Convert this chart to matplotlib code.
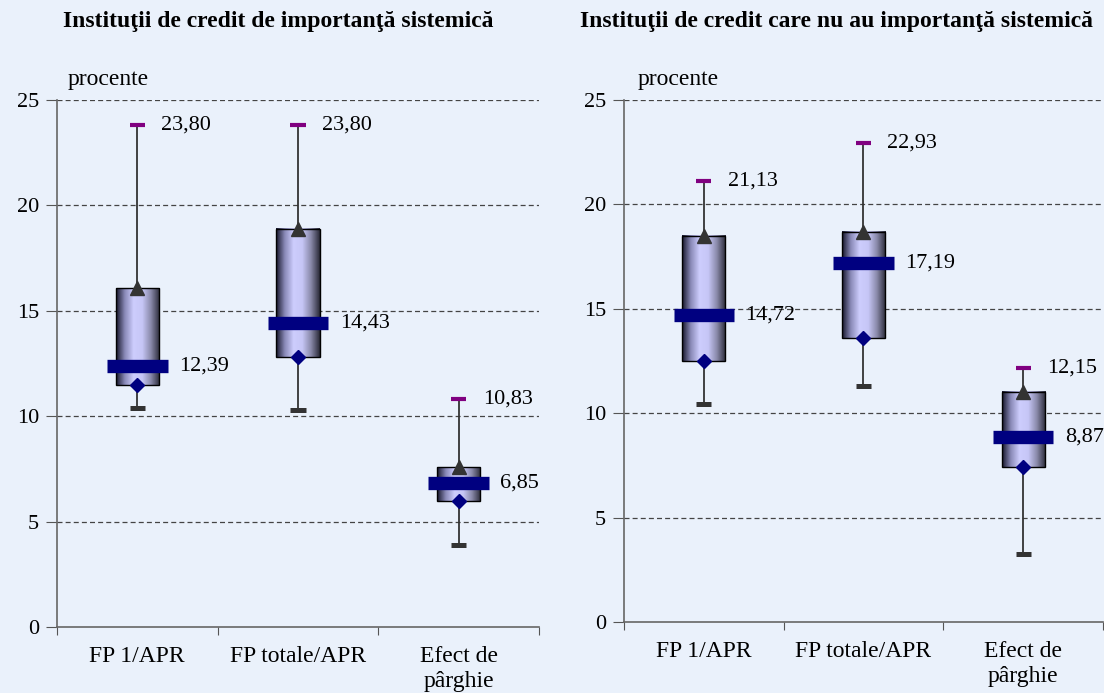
import numpy as np
import matplotlib
matplotlib.use("Agg")
import matplotlib.pyplot as plt
from matplotlib.colors import LinearSegmentedColormap

plt.rcParams['font.family'] = ['Liberation Serif', 'DejaVu Serif']

categories = ['FP 1/APR', 'FP totale/APR', 'Efect de\npârghie']
titles = ['Instituţii de credit de importanţă sistemică',
          'Instituţii de credit care nu au importanţă sistemică']

# sistemice
sys_max = [23.80, 23.80, 10.83]
sys_q3 = [16.1, 18.9, 7.6]
sys_med = [12.39, 14.43, 6.85]
sys_q1 = [11.5, 12.8, 6.0]
sys_min = [10.4, 10.3, 3.9]

# nesistemice
non_max = [21.13, 22.93, 12.15]
non_q3 = [18.5, 18.7, 11.0]
non_med = [14.72, 17.19, 8.87]
non_q1 = [12.5, 13.6, 7.4]
non_min = [10.45, 11.3, 3.25]

bg = '#EAF1FB'
cmap = LinearSegmentedColormap.from_list(
    'box', ['#15152a', '#8a8ab8', '#cdcdfd', '#c6c6f6', '#8888a8', '#2a2a38'])
grad = np.linspace(0, 1, 200).reshape(1, -1)


def fmt(v):
    return f'{v:.2f}'.replace('.', ',')


def draw(ax, vmax, q3, med, q1, vmin):
    ax.set_facecolor(bg)
    x = np.arange(1, len(categories) + 1)
    for i, xi in enumerate(x):
        ax.vlines(xi, vmin[i], vmax[i], color='#333333', lw=1.3, zorder=1)
        ax.imshow(grad, cmap=cmap, aspect='auto', zorder=2,
                  extent=[xi - 0.135, xi + 0.135, q1[i], q3[i]])
        ax.add_patch(plt.Rectangle((xi - 0.135, q1[i]), 0.27, q3[i] - q1[i],
                                   fill=False, ec='black', lw=1, zorder=3))
        ax.plot([xi - 0.047, xi + 0.047], [vmax[i]] * 2, color='#800080',
                lw=3, solid_capstyle='butt', zorder=4)
        ax.plot([xi - 0.047, xi + 0.047], [vmin[i]] * 2, color='#333333',
                lw=3.6, solid_capstyle='butt', zorder=4)
        ax.plot([xi - 0.189, xi + 0.189], [med[i]] * 2, color='#000080',
                lw=9.6, solid_capstyle='butt', zorder=5)
        ax.plot(xi, q3[i], marker='^', ms=10, color='#333333', zorder=6)
        ax.plot(xi, q1[i], marker='D', ms=7.5, color='#000080', zorder=6)
        ax.text(xi + 0.15, vmax[i], fmt(vmax[i]), fontsize=16,
                va='center', ha='left', zorder=7)
        ax.text(xi + 0.26, med[i], fmt(med[i]), fontsize=16,
                va='center', ha='left', zorder=7)
    ax.set_xlim(0.5, 3.5)
    ax.set_ylim(0, 25)
    ax.set_yticks([0, 5, 10, 15, 20, 25])
    ax.set_xticks([0.5, 1.5, 2.5, 3.5])
    ax.set_xticklabels([])
    ax.set_xticks(x, minor=True)
    ax.set_xticklabels(categories, minor=True, fontsize=17, linespacing=1.25)
    ax.tick_params(axis='x', which='minor', length=0, pad=14)
    ax.tick_params(axis='x', which='major', length=6, direction='out',
                   color='#555555')
    ax.tick_params(axis='y', length=8, color='#555555', labelsize=16, pad=5)
    for yv in [5, 10, 15, 20, 25]:
        ax.axhline(yv, color='#444444', lw=0.9, ls=(0, (4, 2.5)), zorder=0)
    for s in ['top', 'right']:
        ax.spines[s].set_visible(False)
    for s in ['left', 'bottom']:
        ax.spines[s].set_color('#666666')
        ax.spines[s].set_linewidth(1.2)


fig = plt.figure(figsize=(11.04, 6.93), dpi=100, facecolor=bg)
ax1 = fig.add_axes([0.0516, 0.0952, 0.4366, 0.7605])
ax2 = fig.add_axes([0.5652, 0.1025, 0.4339, 0.7532])
draw(ax1, sys_max, sys_q3, sys_med, sys_q1, sys_min)
draw(ax2, non_max, non_q3, non_med, non_q1, non_min)

fig.text(0.252, 0.969, titles[0], ha='center', va='center',
         fontsize=17, fontweight='bold')
fig.text(0.758, 0.969, titles[1], ha='center', va='center',
         fontsize=17, fontweight='bold')
fig.text(0.0616, 0.885, 'procente', ha='left', va='center', fontsize=17)
fig.text(0.578, 0.885, 'procente', ha='left', va='center', fontsize=17)

fig.savefig('out.png', dpi=100, facecolor=bg)
